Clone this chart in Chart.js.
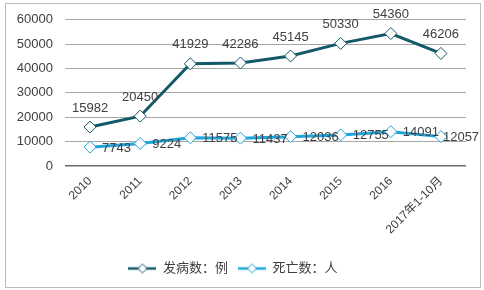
<!DOCTYPE html>
<html>
<head>
<meta charset="utf-8">
<script src="https://cdn.jsdelivr.net/npm/chart.js@4/dist/chart.umd.min.js"></script>
<style>
  html, body { margin: 0; padding: 0; background: #fff; }
  #wrap { position: relative; width: 484px; height: 290px; }
  #frame { position: absolute; left: 5px; top: 3px; width: 474px; height: 283px; border: 1px solid #bdbdbd; pointer-events: none; }
</style>
</head>
<body>
<div id="wrap">
  <canvas id="chart" width="484" height="290"></canvas>
  <div id="frame"></div>
</div>
<script>
// Chart data
const years = ['2010', '2011', '2012', '2013', '2014', '2015', '2016', '2017年1-10月'];
const cases = [15982, 20450, 41929, 42286, 45145, 50330, 54360, 46206];
const deaths = [7743, 9224, 11575, 11437, 12036, 12755, 14091, 12057];
const yTicks = [0, 10000, 20000, 30000, 40000, 50000, 60000];

const DARK = '#14596a';
const LIGHT = '#1fa5dc';
const FONT = '"Liberation Sans", Arial, "Noto Sans CJK SC", sans-serif';

/**
 * Legend swatch — short line with a hollow diamond in the middle.
 */
function legendSwatch(color) {
  const c = document.createElement('canvas');
  c.width = 28;
  c.height = 12;
  const g = c.getContext('2d');
  g.strokeStyle = color;
  g.lineWidth = 2.5;
  g.beginPath();
  g.moveTo(0, 6);
  g.lineTo(28, 6);
  g.stroke();
  g.fillStyle = '#fff';
  g.lineWidth = 1;
  g.beginPath();
  g.moveTo(14, 1.5);
  g.lineTo(18.5, 6);
  g.lineTo(14, 10.5);
  g.lineTo(9.5, 6);
  g.closePath();
  g.fill();
  g.stroke();
  return c;
}

// Value labels: cases above the point, deaths to the right
const valueLabels = {
  id: 'valueLabels',
  afterDatasetsDraw(chart) {
    const ctx = chart.ctx;
    ctx.save();
    ctx.font = '13px ' + FONT;
    ctx.fillStyle = '#404040';
    ctx.textBaseline = 'middle';
    chart.data.datasets.forEach((ds, di) => {
      const meta = chart.getDatasetMeta(di);
      meta.data.forEach((pt, i) => {
        const txt = String(ds.data[i]);
        if (di === 0) {
          ctx.textAlign = 'center';
          ctx.fillText(txt, pt.x, pt.y - 19);
        } else {
          ctx.textAlign = 'left';
          const w = ctx.measureText(txt).width;
          let x = pt.x + 12;
          if (x + w > chart.width - 6) x = pt.x + 2;
          ctx.fillText(txt, x, pt.y + 1);
        }
      });
    });
    ctx.restore();
  },
};

new Chart(document.getElementById('chart'), {
  type: 'line',
  data: {
    labels: years,
    datasets: [
      {
        label: '发病数：例',
        data: cases,
        borderColor: DARK,
        backgroundColor: '#fff',
        borderWidth: 3,
        tension: 0,
        pointStyle: 'rectRot',
        pointRadius: 6,
        pointBorderWidth: 1,
        pointBackgroundColor: '#fff',
        pointBorderColor: DARK,
      },
      {
        label: '死亡数：人',
        data: deaths,
        borderColor: LIGHT,
        backgroundColor: '#fff',
        borderWidth: 3,
        tension: 0,
        pointStyle: 'rectRot',
        pointRadius: 6,
        pointBorderWidth: 1,
        pointBackgroundColor: '#fff',
        pointBorderColor: LIGHT,
      },
    ],
  },
  options: {
    responsive: false,
    animation: false,
    layout: { padding: { top: 16, right: 18, bottom: 5, left: 0 } },
    plugins: {
      tooltip: { enabled: false },
      legend: {
        position: 'bottom',
        labels: {
          usePointStyle: true,
          pointStyleWidth: 28,
          padding: 10,
          color: '#404040',
          font: { family: FONT, size: 13 },
          generateLabels: (chart) =>
            chart.data.datasets.map((ds, i) => ({
              text: ds.label,
              pointStyle: legendSwatch(ds.borderColor),
              fillStyle: '#fff',
              strokeStyle: ds.borderColor,
              lineWidth: 0,
              datasetIndex: i,
              fontColor: '#404040',
            })),
        },
      },
    },
    scales: {
      x: {
        offset: true,
        grid: { display: false, drawTicks: false },
        border: { display: false },
        ticks: {
          color: '#404040',
          font: { family: FONT, size: 12 },
          minRotation: 45,
          maxRotation: 45,
          padding: 8,
        },
        afterFit: (s) => { s.height = 86; },
      },
      y: {
        min: 0,
        max: 60000,
        afterBuildTicks: (s) => { s.ticks = yTicks.map((v) => ({ value: v })); },
        grid: {
          drawTicks: false,
          color: (c) => (c.tick && c.tick.value === 0 ? '#6a6a6a' : '#a6a6a6'),
          lineWidth: (c) => (c.tick && c.tick.value === 0 ? 1.5 : 1),
        },
        border: { display: false },
        ticks: {
          color: '#404040',
          font: { family: FONT, size: 13 },
          padding: 12,
          callback: (v) => String(v),
        },
        afterFit: (s) => { s.width = 65; },
      },
    },
  },
  plugins: [valueLabels],
});
</script>
</body>
</html>
